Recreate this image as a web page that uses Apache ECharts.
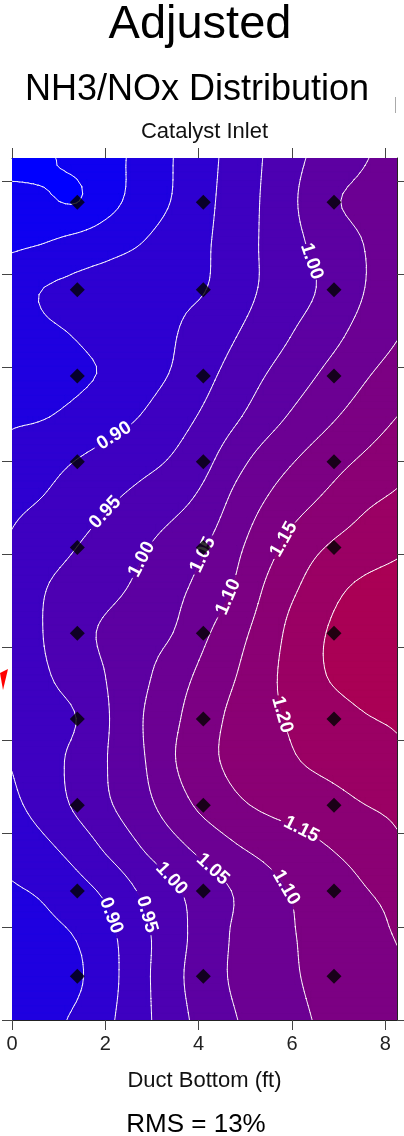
<!DOCTYPE html>
<html>
<head>
<meta charset="utf-8">
<script src="https://cdn.jsdelivr.net/npm/echarts@6/dist/echarts.min.js"></script>
<style>
html,body{margin:0;padding:0;background:#fff;}
#chart{width:404px;height:1136px;}
</style>
</head>
<body>
<div id="chart"></div>
<script>
// ---------------- data ----------------
const xTickValues = [0, 2, 4, 6, 8];
const yTickValues = [0, 2, 4, 6, 8, 10, 12, 14, 16, 18];

// sample grid positions (ft): columns left->right, rows top->bottom
const gridX = [0, 0.6875, 1.375, 2.0625, 2.75, 3.4375, 4.125, 4.8125, 5.5, 6.1875, 6.875, 7.5625, 8.25];
const gridY = [18.5, 17.575, 16.65, 15.725, 14.8, 13.875, 12.95, 12.025, 11.1, 10.175, 9.25,
               8.325, 7.4, 6.475, 5.55, 4.625, 3.7, 2.775, 1.85, 0.925, 0];

// NH3/NOx ratio estimated at each grid position
const ratioGrid = [
 [0.735, 0.745, 0.761, 0.785, 0.813, 0.849, 0.884, 0.920, 0.957, 0.995, 1.022, 1.047, 1.070],
 [0.763, 0.756, 0.748, 0.784, 0.820, 0.852, 0.888, 0.923, 0.961, 1.004, 1.044, 1.062, 1.075],
 [0.792, 0.801, 0.818, 0.834, 0.850, 0.873, 0.894, 0.926, 0.961, 0.995, 1.025, 1.051, 1.068],
 [0.832, 0.850, 0.860, 0.869, 0.879, 0.889, 0.898, 0.929, 0.960, 0.986, 1.016, 1.050, 1.083],
 [0.830, 0.845, 0.853, 0.868, 0.878, 0.896, 0.919, 0.947, 0.976, 1.006, 1.035, 1.067, 1.095],
 [0.825, 0.833, 0.842, 0.856, 0.880, 0.903, 0.936, 0.969, 1.002, 1.033, 1.064, 1.094, 1.120],
 [0.844, 0.848, 0.862, 0.881, 0.901, 0.928, 0.958, 0.994, 1.031, 1.065, 1.095, 1.123, 1.150],
 [0.865, 0.882, 0.900, 0.917, 0.934, 0.954, 0.986, 1.033, 1.073, 1.104, 1.132, 1.157, 1.180],
 [0.890, 0.904, 0.925, 0.946, 0.966, 0.986, 1.016, 1.066, 1.106, 1.138, 1.166, 1.193, 1.210],
 [0.905, 0.928, 0.949, 0.971, 0.993, 1.019, 1.047, 1.090, 1.134, 1.176, 1.205, 1.224, 1.240],
 [0.915, 0.948, 0.969, 0.988, 1.010, 1.036, 1.067, 1.107, 1.160, 1.203, 1.239, 1.260, 1.270],
 [0.925, 0.951, 0.983, 1.009, 1.029, 1.049, 1.092, 1.133, 1.178, 1.225, 1.255, 1.270, 1.275],
 [0.928, 0.945, 0.971, 1.003, 1.037, 1.075, 1.114, 1.150, 1.190, 1.225, 1.255, 1.270, 1.275],
 [0.918, 0.933, 0.950, 0.998, 1.046, 1.089, 1.130, 1.163, 1.190, 1.211, 1.229, 1.247, 1.255],
 [0.903, 0.931, 0.962, 1.001, 1.042, 1.095, 1.136, 1.162, 1.180, 1.200, 1.213, 1.227, 1.240],
 [0.890, 0.920, 0.958, 0.995, 1.031, 1.074, 1.114, 1.142, 1.160, 1.172, 1.185, 1.200, 1.210],
 [0.869, 0.890, 0.920, 0.960, 0.999, 1.034, 1.066, 1.096, 1.116, 1.134, 1.152, 1.170, 1.192],
 [0.845, 0.857, 0.882, 0.912, 0.955, 0.991, 1.024, 1.055, 1.085, 1.109, 1.128, 1.148, 1.160],
 [0.830, 0.840, 0.853, 0.889, 0.935, 0.980, 1.021, 1.057, 1.080, 1.103, 1.120, 1.139, 1.152],
 [0.830, 0.836, 0.843, 0.884, 0.934, 0.984, 1.026, 1.058, 1.080, 1.100, 1.118, 1.133, 1.145],
 [0.830, 0.838, 0.857, 0.892, 0.934, 0.979, 1.017, 1.049, 1.071, 1.093, 1.112, 1.130, 1.140]
];

// contour levels
const levels = [0.75, 0.80, 0.85, 0.90, 0.95, 1.00, 1.05, 1.10, 1.15, 1.20, 1.25];

// probe (sample point) locations
const probeX = [1.4, 4.1, 6.9];
const probeY = [0.94, 2.77, 4.61, 6.46, 8.30, 10.14, 11.98, 13.82, 15.67, 17.55];

// contour label locations
const labelLevels = [1.00, 0.90, 0.95, 1.00, 1.05, 1.10, 1.15, 1.20, 1.15, 1.10, 1.05, 1.00, 0.95, 0.90];
const labelX = [6.385, 2.207, 1.993, 2.807, 4.093, 4.671, 5.85, 5.764, 6.171, 5.678, 4.243, 3.428, 2.764, 2.10];
const labelY = [16.27, 12.51, 10.90, 9.87, 9.98, 9.06, 10.30, 6.545, 4.034, 2.725, 3.176, 3.047, 2.232, 2.232];

// ---------------- styles ----------------
const FONT = "'Liberation Sans', Arial, sans-serif";
const bandColors = ['#0000ff', '#0f00f0', '#1f00e0', '#2e00d1', '#3e00c1', '#4d00b2',
                    '#5d00a2', '#6c0093', '#7c0083', '#8b0074', '#9b0064', '#aa0055'];
const LABEL_SIZE = 19;

function buildContours(params, api) {
  const nc = gridX.length, nr = gridY.length, S = 6;
  const NU = (nc - 1) * S + 1, NV = (nr - 1) * S + 1;
  function g(i, j) {
    if (i < 0) return 2 * g(0, j) - g(1, j);
    if (i > nc - 1) return 2 * g(nc - 1, j) - g(nc - 2, j);
    if (j < 0) return 2 * g(i, 0) - g(i, 1);
    if (j > nr - 1) return 2 * g(i, nr - 1) - g(i, nr - 2);
    return ratioGrid[j][i];
  }
  function cr(p0, p1, p2, p3, t) {
    return 0.5 * (2 * p1 + (-p0 + p2) * t + (2 * p0 - 5 * p1 + 4 * p2 - p3) * t * t + (-p0 + 3 * p1 - 3 * p2 + p3) * t * t * t);
  }
  function field(u, v) {
    let i = Math.floor(u), j = Math.floor(v);
    if (i > nc - 2) i = nc - 2;
    if (j > nr - 2) j = nr - 2;
    const tu = u - i, tv = v - j;
    const r = [];
    for (let m = -1; m <= 2; m++) r.push(cr(g(i - 1, j + m), g(i, j + m), g(i + 1, j + m), g(i + 2, j + m), tu));
    return cr(r[0], r[1], r[2], r[3], tv);
  }
  const PX = new Float64Array(NU), PY = new Float64Array(NV), F = new Float64Array(NU * NV);
  for (let a = 0; a < NU; a++) {
    const xv = gridX[0] + (gridX[nc - 1] - gridX[0]) * a / (NU - 1);
    PX[a] = api.coord([xv, gridY[nr - 1]])[0];
  }
  for (let b = 0; b < NV; b++) {
    const yv = gridY[0] + (gridY[nr - 1] - gridY[0]) * b / (NV - 1);
    PY[b] = api.coord([gridX[0], yv])[1];
  }
  for (let b = 0; b < NV; b++) for (let a = 0; a < NU; a++) F[b * NU + a] = field(a / S, b / S);

  function bandOf(v) { let k = 0; while (k < levels.length && v >= levels[k]) k++; return k; }
  const nb = levels.length + 1;
  const bandParts = [];
  for (let k = 0; k < nb; k++) bandParts.push([]);
  const segs = levels.map(() => []);
  function f2(n) { return n.toFixed(2); }
  function addPoly(bi, pts) {
    let s = 'M' + f2(pts[0][0]) + ' ' + f2(pts[0][1]);
    for (let k = 1; k < pts.length; k++) s += 'L' + f2(pts[k][0]) + ' ' + f2(pts[k][1]);
    bandParts[bi].push(s + 'Z');
  }
  function clip(poly, L, keepAbove) {
    const out = [];
    for (let k = 0; k < poly.length; k++) {
      const c = poly[k], n = poly[(k + 1) % poly.length];
      const ci = keepAbove ? c.v >= L : c.v <= L;
      const ni = keepAbove ? n.v >= L : n.v <= L;
      if (ci) out.push(c);
      if (ci !== ni) {
        const t = (L - c.v) / (n.v - c.v);
        out.push({ x: c.x + t * (n.x - c.x), y: c.y + t * (n.y - c.y), v: L });
      }
    }
    return out;
  }
  for (let b = 0; b < NV - 1; b++) {
    const y0 = PY[b], y1 = PY[b + 1];
    let runBand = -1, rx0 = 0, rx1 = 0;
    const flush = () => {
      if (runBand >= 0) addPoly(runBand, [[rx0, y0], [rx1, y0], [rx1, y1], [rx0, y1]]);
      runBand = -1;
    };
    for (let a = 0; a < NU - 1; a++) {
      const v00 = F[b * NU + a], v10 = F[b * NU + a + 1], v01 = F[(b + 1) * NU + a], v11 = F[(b + 1) * NU + a + 1];
      const mn = Math.min(v00, v10, v01, v11), mx = Math.max(v00, v10, v01, v11);
      const b0 = bandOf(mn), b1 = bandOf(mx);
      if (b0 === b1) {
        if (runBand === b0) rx1 = PX[a + 1];
        else { flush(); runBand = b0; rx0 = PX[a]; rx1 = PX[a + 1]; }
        continue;
      }
      flush();
      const P00 = { x: PX[a], y: y0, v: v00 }, P10 = { x: PX[a + 1], y: y0, v: v10 };
      const P01 = { x: PX[a], y: y1, v: v01 }, P11 = { x: PX[a + 1], y: y1, v: v11 };
      const tris = [[P00, P10, P11], [P00, P11, P01]];
      for (const tri of tris) {
        const tmn = Math.min(tri[0].v, tri[1].v, tri[2].v), tmx = Math.max(tri[0].v, tri[1].v, tri[2].v);
        for (let bb = bandOf(tmn); bb <= bandOf(tmx); bb++) {
          let poly = tri;
          if (bb > 0) poly = clip(poly, levels[bb - 1], true);
          if (poly.length >= 3 && bb < levels.length) poly = clip(poly, levels[bb], false);
          if (poly.length >= 3) addPoly(bb, poly.map(p => [p.x, p.y]));
        }
        for (let li = 0; li < levels.length; li++) {
          const L = levels[li];
          if (L <= tmn || L > tmx) continue;
          const pts = [];
          const E = [[0, 1], [1, 2], [2, 0]];
          for (const e of E) {
            const p = tri[e[0]], q = tri[e[1]];
            if ((p.v >= L) !== (q.v >= L)) {
              const t = (L - p.v) / (q.v - p.v);
              pts.push([p.x + t * (q.x - p.x), p.y + t * (q.y - p.y)]);
            }
          }
          if (pts.length === 2) segs[li].push([pts[0][0], pts[0][1], pts[1][0], pts[1][1]]);
        }
      }
    }
    flush();
  }

  // labels snapped to their contour
  const labelEls = [];
  const gaps = levels.map(() => []);
  for (let k = 0; k < labelLevels.length; k++) {
    const li = levels.findIndex(L => Math.abs(L - labelLevels[k]) < 1e-9);
    const t = api.coord([labelX[k], labelY[k]]);
    let best = null, bd = 1e9;
    for (const s of segs[li]) {
      const dx = s[2] - s[0], dy = s[3] - s[1];
      const l2 = dx * dx + dy * dy || 1e-9;
      let u = ((t[0] - s[0]) * dx + (t[1] - s[1]) * dy) / l2;
      u = Math.max(0, Math.min(1, u));
      const px = s[0] + u * dx, py = s[1] + u * dy;
      const d = Math.hypot(px - t[0], py - t[1]);
      if (d < bd) { bd = d; best = [px, py]; }
    }
    if (!best || bd > 30) best = t;
    let sx = 0, sy = 0, ref = null;
    for (const s of segs[li]) {
      const mx = (s[0] + s[2]) / 2, my = (s[1] + s[3]) / 2;
      if (Math.hypot(mx - best[0], my - best[1]) < 12) {
        let dx = s[2] - s[0], dy = s[3] - s[1];
        if (!ref) ref = [dx, dy];
        if (dx * ref[0] + dy * ref[1] < 0) { dx = -dx; dy = -dy; }
        sx += dx; sy += dy;
      }
    }
    if (sx < 0) { sx = -sx; sy = -sy; }
    const rot = (sx === 0 && sy === 0) ? 0 : -Math.atan2(sy, sx);
    gaps[li].push(best);
    labelEls.push({
      type: 'text', x: best[0], y: best[1], rotation: rot, z2: 20,
      style: { text: labelLevels[k].toFixed(2), fill: '#ffffff', fontSize: LABEL_SIZE, fontWeight: 'bold',
               fontFamily: FONT, align: 'center', verticalAlign: 'middle' }
    });
  }
  const gapR = 2.0 * LABEL_SIZE / 2 + 3;
  let linePath = '';
  for (let li = 0; li < levels.length; li++) {
    for (const s of segs[li]) {
      const mx = (s[0] + s[2]) / 2, my = (s[1] + s[3]) / 2;
      let skip = false;
      for (const gp of gaps[li]) if (Math.hypot(mx - gp[0], my - gp[1]) < gapR) { skip = true; break; }
      if (skip) continue;
      linePath += 'M' + f2(s[0]) + ' ' + f2(s[1]) + 'L' + f2(s[2]) + ' ' + f2(s[3]);
    }
  }
  const children = [];
  for (let k = 0; k < nb; k++) {
    if (!bandParts[k].length) continue;
    children.push({
      type: 'path', shape: { pathData: bandParts[k].join('') }, z2: 1,
      style: { fill: bandColors[k], stroke: bandColors[k], lineWidth: 0.6 }
    });
  }
  if (linePath) children.push({
    type: 'path', shape: { pathData: linePath }, z2: 10,
    style: { fill: null, stroke: '#ffffff', lineWidth: 1, lineCap: 'round', opacity: 0.92 }
  });
  return { type: 'group', children: children.concat(labelEls) };
}

const probeData = [];
probeY.forEach(y => probeX.forEach(x => probeData.push([x, y])));

const chart = echarts.init(document.getElementById('chart'), null, { renderer: 'canvas' });
const axisLineStyle = { color: '#222', width: 1 };
const tickStyle = { color: '#444', width: 1 };
chart.setOption({
  animation: false,
  backgroundColor: '#ffffff',
  grid: { left: 12, right: 7, top: 158, bottom: 116, containLabel: false },
  xAxis: [
    {
      type: 'value', position: 'bottom', min: 0, max: 8.25,
      axisLine: { show: true, onZero: false, lineStyle: axisLineStyle },
      axisTick: { show: true, length: 10, customValues: xTickValues, lineStyle: tickStyle },
      axisLabel: { show: true, customValues: xTickValues, margin: 14, fontSize: 20, color: '#222', fontFamily: FONT },
      splitLine: { show: false },
      name: 'Duct Bottom (ft)', nameLocation: 'middle', nameGap: 50,
      nameTextStyle: { fontSize: 22, color: '#111', fontFamily: FONT }
    },
    {
      type: 'value', position: 'top', min: 0, max: 8.25,
      axisLine: { show: true, onZero: false, lineStyle: axisLineStyle },
      axisTick: { show: true, length: 10, customValues: xTickValues, lineStyle: tickStyle },
      axisLabel: { show: false },
      splitLine: { show: false },
      name: 'Catalyst Inlet', nameLocation: 'middle', nameGap: 15,
      nameTextStyle: { fontSize: 22, color: '#111', fontFamily: FONT }
    }
  ],
  yAxis: [
    {
      type: 'value', position: 'left', min: 0, max: 18.5,
      axisLine: { show: true, onZero: false, lineStyle: axisLineStyle },
      axisTick: { show: true, length: 10, customValues: yTickValues, lineStyle: tickStyle },
      axisLabel: { show: false }, splitLine: { show: false }
    },
    {
      type: 'value', position: 'right', min: 0, max: 18.5,
      axisLine: { show: true, onZero: false, lineStyle: axisLineStyle },
      axisTick: { show: true, length: 10, customValues: yTickValues, lineStyle: tickStyle },
      axisLabel: { show: false }, splitLine: { show: false }
    }
  ],
  graphic: [
    { type: 'text', x: 200, y: 25, style: { text: 'Adjusted', fontSize: 47, fontFamily: FONT, fill: '#000', align: 'center', verticalAlign: 'middle' } },
    { type: 'text', x: 197, y: 90, style: { text: 'NH3/NOx Distribution', fontSize: 36, fontFamily: FONT, fill: '#000', align: 'center', verticalAlign: 'middle' } },
    { type: 'text', x: 196, y: 1125, style: { text: 'RMS = 13%', fontSize: 26, fontFamily: FONT, fill: '#000', align: 'center', verticalAlign: 'middle' } },
    { type: 'line', shape: { x1: 395.5, y1: 97, x2: 395.5, y2: 113 }, style: { stroke: '#aaaaaa', lineWidth: 1 } },
    { type: 'polygon', shape: { points: [[0, 673], [8, 669], [3, 690]] }, style: { fill: '#ff0000' } }
  ],
  series: [
    {
      type: 'custom', coordinateSystem: 'cartesian2d', xAxisIndex: 0, yAxisIndex: 0,
      data: [[0, 0]], silent: true, clip: true, z: 1,
      renderItem: buildContours
    },
    {
      type: 'scatter', xAxisIndex: 0, yAxisIndex: 0, data: probeData,
      symbol: 'diamond', symbolSize: 15, itemStyle: { color: '#000000' }, silent: true, z: 5
    }
  ]
});
</script>
</body>
</html>
